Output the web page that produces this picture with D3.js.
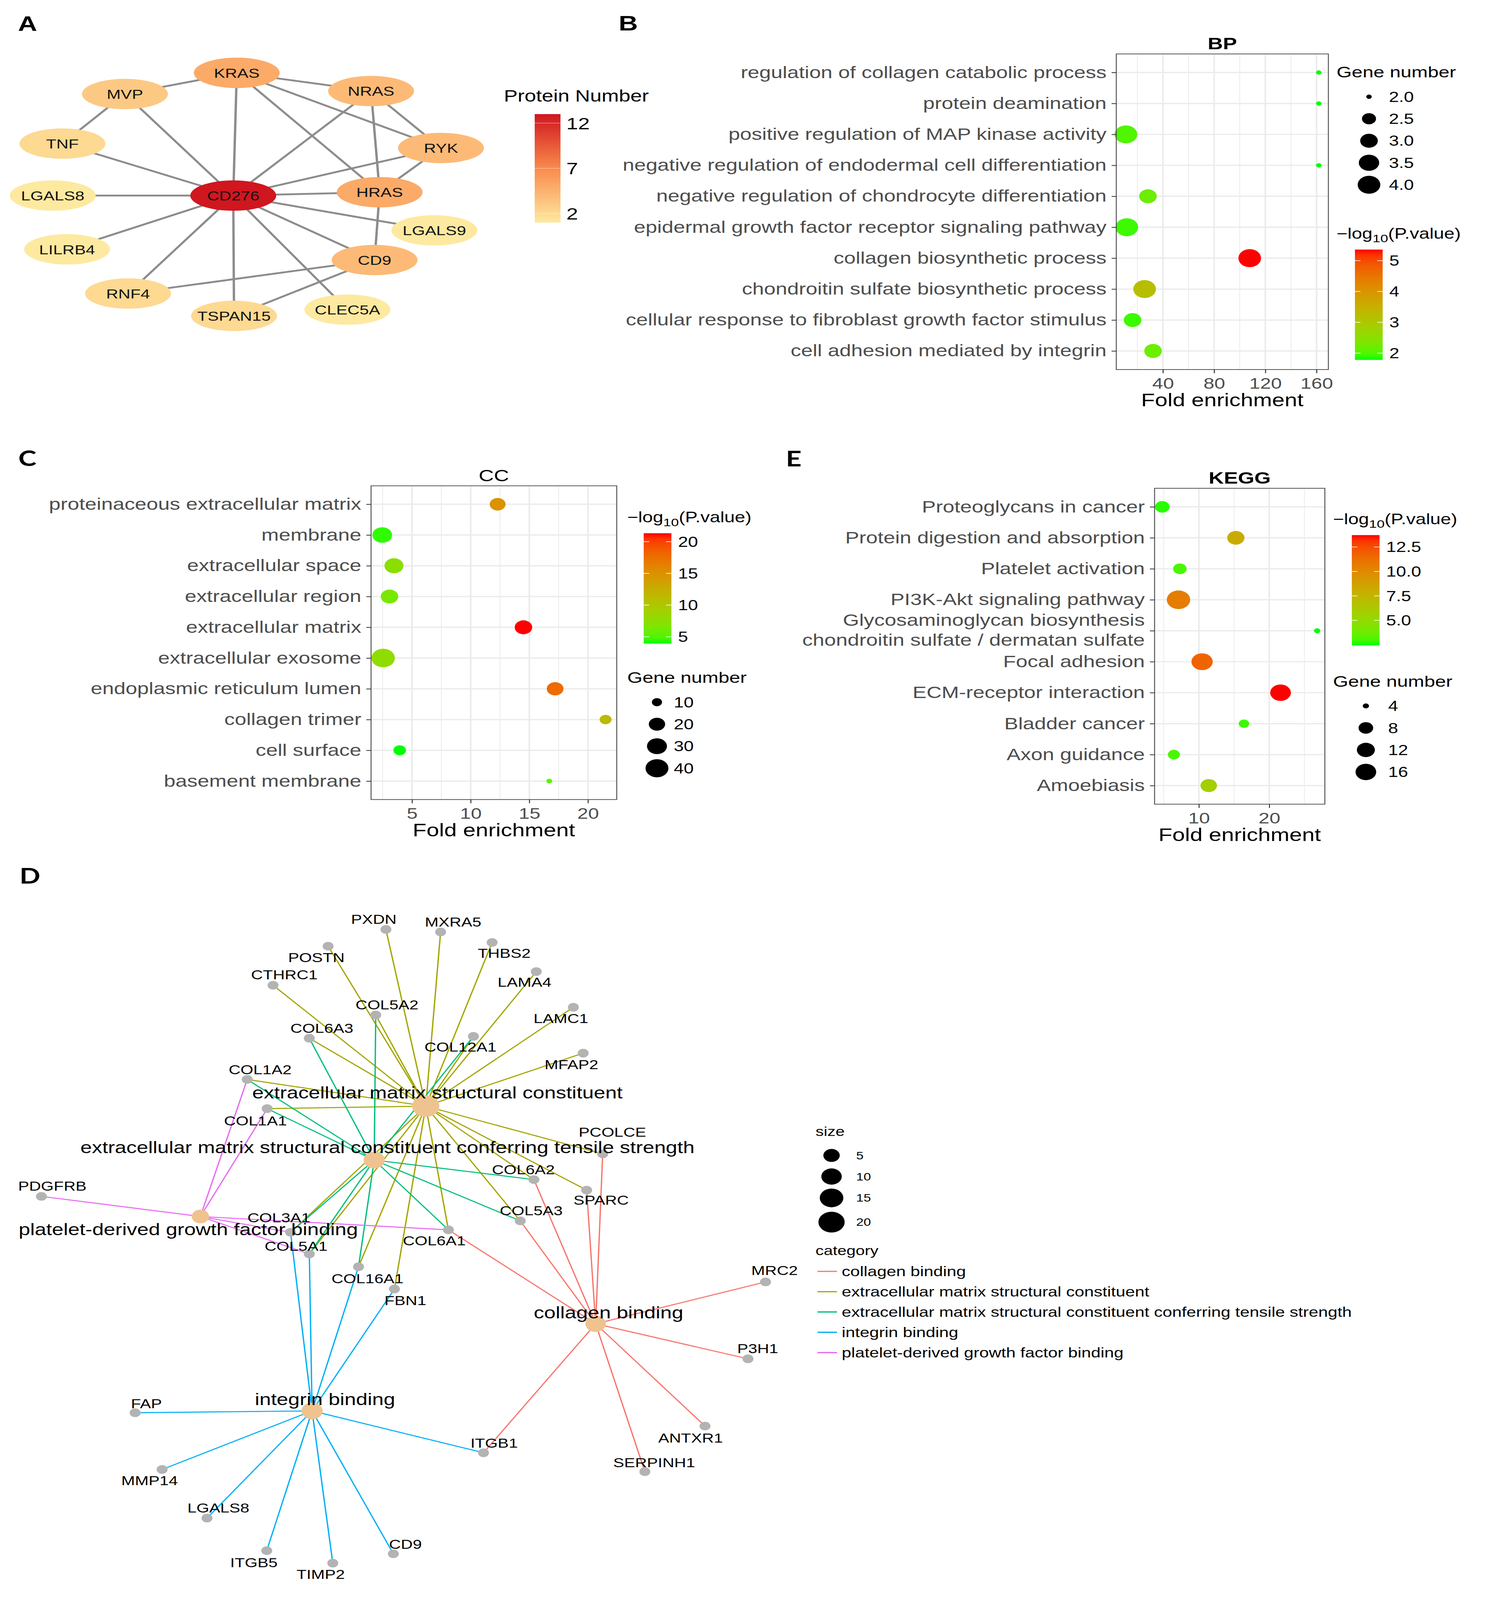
<!DOCTYPE html>
<html>
<head>
<meta charset="utf-8">
<script src="https://cdn.jsdelivr.net/npm/d3@7"></script>
<style>
html,body{margin:0;padding:0;background:#fff;overflow:hidden;}
svg{display:block;}
text{font-family:"Liberation Sans",Arial,Helvetica,sans-serif;}
</style>
</head>
<body>
<script>
// ---------- Panel A : PPI network ----------
var ppiNodes  = ["CD276","KRAS","MVP","NRAS","TNF","RYK","LGALS8","HRAS","LGALS9","LILRB4","CD9","RNF4","TSPAN15","CLEC5A"];
var ppiDegree = [13,5,3,4,2,4,1,5,1,1,4,2,2,1];
// layout coordinates (0-100 grid)
var ppiLayout = [[46.5,50.5],[47.4,0],[18.6,8.7],[82.0,7.5],[2.5,29.1],[100,30.9],[0,50.5],[84.2,49.1],[98.3,64.8],[3.7,72.6],[82.9,77.0],[19.4,90.8],[46.7,100],[75.9,97.4]];
var ppiEdges = [["CD276","KRAS"],["CD276","MVP"],["CD276","TNF"],["CD276","LGALS8"],["CD276","LILRB4"],["CD276","RNF4"],
  ["CD276","TSPAN15"],["CD276","CLEC5A"],["CD276","CD9"],["CD276","LGALS9"],["CD276","HRAS"],["CD276","RYK"],["CD276","NRAS"],
  ["KRAS","MVP"],["KRAS","NRAS"],["KRAS","RYK"],["KRAS","HRAS"],["MVP","TNF"],["NRAS","RYK"],["NRAS","HRAS"],["RYK","HRAS"],
  ["HRAS","CD9"],["CD9","RNF4"],["CD9","TSPAN15"]];
var ppiTicks = [2,7,12];

// ---------- Panel B : GO BP ----------
var bpTerms = ["regulation of collagen catabolic process","protein deamination","positive regulation of MAP kinase activity",
  "negative regulation of endodermal cell differentiation","negative regulation of chondrocyte differentiation",
  "epidermal growth factor receptor signaling pathway","collagen biosynthetic process","chondroitin sulfate biosynthetic process",
  "cellular response to fibroblast growth factor stimulus","cell adhesion mediated by integrin"];
var bpFold  = [161.7,161.7,11.1,161.7,28.3,11.8,107.8,25.7,16.3,32.3];
var bpCount = [2,2,4,2,3,4,4,4,3,3];
var bpLogP  = [1.78,1.78,2.0,1.78,2.2,1.9,5.36,3.2,1.9,2.2];
var bpTicks = [40,80,120,160];
var bpSizeBreaks = [2.0,2.5,3.0,3.5,4.0];
var bpColorBreaks = [2,3,4,5];

// ---------- Panel C : GO CC ----------
var ccTerms = ["proteinaceous extracellular matrix","membrane","extracellular space","extracellular region","extracellular matrix",
  "extracellular exosome","endoplasmic reticulum lumen","collagen trimer","cell surface","basement membrane"];
var ccFold  = [12.3,2.46,3.46,3.08,14.5,2.54,17.2,21.5,3.95,16.7];
var ccCount = [19,29,27,23,23,42,21,12,13,8];
var ccLogP  = [14.7,4.3,7.4,6.5,21.33,7.8,17.8,11.2,3.93,5.3];
var ccTicks = [5,10,15,20];
var ccSizeBreaks = [10,20,30,40];
var ccColorBreaks = [5,10,15,20];

// ---------- Panel E : KEGG ----------
var keggTerms = ["Proteoglycans in cancer","Protein digestion and absorption","Platelet activation","PI3K-Akt signaling pathway",
  "Glycosaminoglycan biosynthesis\nchondroitin sulfate / dermatan sulfate","Focal adhesion","ECM-receptor interaction",
  "Bladder cancer","Axon guidance","Amoebiasis"];
var keggFold  = [4.8,15.25,7.3,7.1,26.8,10.45,21.6,16.4,6.45,11.4];
var keggCount = [8,11,7,21,4,17,16,5,6,10];
var keggLogP  = [2.6,8.1,3.0,10.6,2.43,11.7,13.72,2.8,3.0,5.8];
var keggTicks = [10,20];
var keggSizeBreaks = [4,8,12,16];
var keggColorBreaks = [5,7.5,10,12.5];

// ---------- Panel D : cnetplot ----------
var goCats = ["collagen binding","extracellular matrix structural constituent",
  "extracellular matrix structural constituent conferring tensile strength","integrin binding","platelet-derived growth factor binding"];
var goColors = ["#F8766D","#A3A500","#00BF7D","#00B0F6","#E76BF3"];
var goGenes = [
  ["COL6A1","COL5A3","COL6A2","PCOLCE","SPARC","MRC2","P3H1","ANTXR1","SERPINH1","ITGB1"],
  ["PXDN","MXRA5","THBS2","POSTN","LAMA4","CTHRC1","LAMC1","COL5A2","COL6A3","COL12A1","MFAP2","COL1A2","COL1A1","PCOLCE","COL6A2","SPARC","COL5A3","COL6A1","COL3A1","COL5A1","COL16A1","FBN1"],
  ["COL1A1","COL1A2","COL3A1","COL5A1","COL5A2","COL5A3","COL6A1","COL6A2","COL6A3","COL12A1","COL16A1"],
  ["COL3A1","COL5A1","COL16A1","FBN1","FAP","MMP14","LGALS8","ITGB5","TIMP2","CD9","ITGB1"],
  ["PDGFRB","COL1A2","COL1A1","COL3A1","COL5A1","COL6A1"]];
var goHubLayout = [[75.0,62.86],[52.11,29.43],[45.16,37.71],[36.79,76.24],[21.74,46.38]];
var goHubLabelLayout = [[76.74,61.14],[53.68,27.33],[46.95,35.71],[38.53,74.43],[20.11,48.33]];
var geneNames = ["PXDN","MXRA5","THBS2","POSTN","LAMA4","CTHRC1","LAMC1","COL5A2","COL6A3","COL12A1","MFAP2","COL1A2","COL1A1",
  "PCOLCE","COL6A2","SPARC","PDGFRB","COL5A3","COL3A1","COL6A1","COL5A1","COL16A1","FBN1","MRC2","P3H1","ANTXR1","SERPINH1",
  "ITGB1","FAP","MMP14","LGALS8","ITGB5","TIMP2","CD9"];
var geneLayout = [[46.74,2.29],[54.11,2.67],[61.05,4.29],[38.95,4.86],[67.0,8.76],[31.53,10.86],[72.0,14.24],[45.37,15.43],
  [36.42,19.0],[58.53,18.71],[73.32,21.29],[28.05,25.33],[30.74,29.81],[75.95,36.76],[66.68,40.71],[73.79,42.33],[0.32,43.29],
  [64.84,47.05],[33.89,48.81],[55.16,48.43],[36.42,52.14],[43.05,54.10],[47.89,57.52],[97.89,56.43],[95.53,68.24],[89.74,78.57],
  [81.63,85.57],[59.89,82.67],[12.95,76.52],[16.58,85.24],[22.63,92.71],[30.68,97.71],[39.58,99.62],[47.74,98.19]];
var geneLabelLayout = [[45.11,0.71],[55.79,1.10],[62.68,5.90],[37.37,6.57],[65.42,10.38],[33.05,9.24],[70.32,15.95],[46.89,13.86],
  [38.11,17.43],[56.79,20.33],[71.74,23.05],[29.79,23.81],[29.16,31.67],[77.26,33.43],[65.26,39.19],[75.74,43.86],[1.79,41.71],
  [66.32,45.48],[32.32,46.52],[53.26,50.10],[34.63,50.95],[44.26,55.90],[49.37,59.24],[99.11,54.67],[96.84,66.67],[87.79,80.38],
  [82.89,84.19],[61.32,81.19],[14.47,75.10],[14.89,86.95],[24.16,91.14],[28.95,99.52],[37.95,101.33],[49.37,96.71]];
var goSizeBreaks = [5,10,15,20];

// drawing is laid out on the 3802x5161 figure grid and fitted to the real window
var W = 3802, H = 5161;
var outW = Math.min(W, window.innerWidth || W), outH = Math.min(H, window.innerHeight || H);
var svg = d3.select("body").append("svg")
	.attr("width",outW).attr("height",outH)
	.attr("viewBox","0 0 "+W+" "+H).attr("preserveAspectRatio","none");
svg.append("rect").attr("width",W).attr("height",H).attr("fill","#fff");

// panel letters
svg.append("text").attr("x",46).attr("y",100).attr("font-size",68).attr("font-weight","bold").text("A");
svg.append("text").attr("x",1584).attr("y",98).attr("font-size",68).attr("font-weight","bold").text("B");
svg.append("text").attr("x",47).attr("y",1503).attr("font-size",70).attr("font-weight","bold").style("font-family","Lato, sans-serif").text("C");
svg.append("text").attr("x",2012).attr("y",1505).attr("font-size",70).attr("font-weight","bold").style("font-family","Lato, sans-serif").text("E");
svg.append("text").attr("x",50).attr("y",2850).attr("font-size",70).attr("font-weight","bold").style("font-family","Lato, sans-serif").text("D");

//=================== PANEL A ===================
function drawPPI(){
	var g = svg.append("g");
	var ax = d3.scaleLinear().domain([0,100]).range([135,1129]);
	var ay = d3.scaleLinear().domain([0,100]).range([235,1019]);
	var col = d3.scaleLinear().domain([1,7,13]).range(["#fee9a0","#f98a4c","#d0161f"]);
	var idx = {};
	ppiNodes.forEach(function(n,i){idx[n]=i;});

	g.selectAll("line.e").data(ppiEdges).enter().append("line")
		.attr("x1",function(d){return ax(ppiLayout[idx[d[0]]][0]);})
		.attr("y1",function(d){return ay(ppiLayout[idx[d[0]]][1]);})
		.attr("x2",function(d){return ax(ppiLayout[idx[d[1]]][0]);})
		.attr("y2",function(d){return ay(ppiLayout[idx[d[1]]][1]);})
		.attr("stroke","#8c8c8c").attr("stroke-width",6);

	var nodes = g.selectAll("g.n").data(ppiNodes).enter().append("g")
		.attr("transform",function(d,i){return "translate("+ax(ppiLayout[i][0])+","+ay(ppiLayout[i][1])+")";});
	nodes.append("ellipse").attr("rx",110).attr("ry",49)
		.attr("fill",function(d,i){return col(ppiDegree[i]);});
	nodes.append("text").attr("text-anchor","middle").attr("dy","0.36em")
		.attr("font-size",43).attr("fill","#111").text(function(d){return d;});

	// legend
	var ly = d3.scaleLinear().domain([1,13]).range([718,368]);
	var grad = svg.append("defs").append("linearGradient").attr("id","gradA")
		.attr("x1",0).attr("y1",1).attr("x2",0).attr("y2",0);
	d3.range(0,1.0001,0.05).forEach(function(t){
		grad.append("stop").attr("offset",t).attr("stop-color",col(1+12*t));
	});
	g.append("text").attr("x",1290).attr("y",328).attr("font-size",53).text("Protein Number");
	g.append("rect").attr("x",1369).attr("y",ly(13)).attr("width",66).attr("height",ly(1)-ly(13)).attr("fill","url(#gradA)");
	g.selectAll("line.t").data(ppiTicks).enter().append("line")
		.attr("x1",1369).attr("x2",1435).attr("y1",function(d){return ly(d);}).attr("y2",function(d){return ly(d);})
		.attr("stroke","#fff").attr("stroke-opacity",0.45).attr("stroke-width",2);
	g.selectAll("text.t").data(ppiTicks).enter().append("text")
		.attr("x",1450).attr("y",function(d){return ly(d);}).attr("dy","0.36em")
		.attr("font-size",54).text(function(d){return d;});
}
drawPPI();

//=================== DOT PLOTS ===================
function expand5(ext){var d=(ext[1]-ext[0])*0.05;return [ext[0]-d,ext[1]+d];}

function logTitle(g,x,y){
	var t = g.append("text").attr("x",x).attr("y",y).attr("dy","0.35em").attr("font-size",48);
	t.append("tspan").text("\u2212log");
	t.append("tspan").attr("font-size",36).attr("dy",12).text("10");
	t.append("tspan").attr("dy",-12).text("(P.value)");
}

function dotPanel(cfg){
	var g = svg.append("g");
	var xdom = expand5(d3.extent(cfg.fold));
	var x = d3.scaleLinear().domain(xdom).range([cfg.left,cfg.right]);
	var y = d3.scalePoint().domain(cfg.terms).range([cfg.top,cfg.bottom]).padding(0.6);
	var cext = d3.extent(cfg.logp);
	var col = d3.scaleLinear().domain(cext).range(["#00ff00","#ff0000"]).interpolate(d3.interpolateLab);
	var sext = d3.extent(cfg.count);
	var rl = d3.scaleLinear().domain([0,1]).range(cfg.rRange);
	function rad(v){return rl(Math.sqrt(Math.max(0,(v-sext[0])/(sext[1]-sext[0]))));}

	// grid
	var step = cfg.ticks[1]-cfg.ticks[0];
	var minor = [];
	for(var v=cfg.ticks[0]-step/2; v<=xdom[1]; v+=step){ if(v>=xdom[0]) minor.push(v); }
	g.selectAll("line.mn").data(minor).enter().append("line")
		.attr("x1",function(d){return x(d);}).attr("x2",function(d){return x(d);})
		.attr("y1",cfg.top).attr("y2",cfg.bottom).attr("stroke","#ebebeb").attr("stroke-width",2);
	g.selectAll("line.mj").data(cfg.ticks).enter().append("line")
		.attr("x1",function(d){return x(d);}).attr("x2",function(d){return x(d);})
		.attr("y1",cfg.top).attr("y2",cfg.bottom).attr("stroke","#ebebeb").attr("stroke-width",4);
	g.selectAll("line.hz").data(cfg.terms).enter().append("line")
		.attr("x1",cfg.left).attr("x2",cfg.right)
		.attr("y1",function(d){return y(d);}).attr("y2",function(d){return y(d);})
		.attr("stroke","#ebebeb").attr("stroke-width",4);

	// points
	var idx = d3.range(cfg.terms.length);
	g.selectAll("circle.p").data(idx).enter().append("circle")
		.attr("cx",function(i){return x(cfg.fold[i]);})
		.attr("cy",function(i){return y(cfg.terms[i]);})
		.attr("r",function(i){return rad(cfg.count[i]);})
		.attr("fill",function(i){return col(cfg.logp[i]);});

	g.append("rect").attr("x",cfg.left).attr("y",cfg.top).attr("width",cfg.right-cfg.left).attr("height",cfg.bottom-cfg.top)
		.attr("fill","none").attr("stroke","#555").attr("stroke-width",2.5);

	// axes
	var gx = g.append("g").attr("transform","translate(0,"+cfg.bottom+")")
		.call(d3.axisBottom(x).tickValues(cfg.ticks).tickSize(12).tickPadding(14).tickFormat(d3.format("d")));
	var gy = g.append("g").attr("transform","translate("+cfg.left+",0)")
		.call(d3.axisLeft(y).tickSize(12).tickPadding(13));
	[gx,gy].forEach(function(a){
		a.select(".domain").remove();
		a.selectAll(".tick line").attr("stroke","#333").attr("stroke-width",2.5);
		a.selectAll(".tick text").attr("fill","#4d4d4d").style("font-family",'"Liberation Sans",Arial,sans-serif');
	});
	gx.selectAll(".tick text").attr("font-size",50);
	gy.selectAll(".tick text").attr("font-size",53.5).each(function(d){
		var lines = d.split("\n");
		if(lines.length>1){
			var t = d3.select(this).text(null).attr("dy",null);
			lines.forEach(function(s,i){
				t.append("tspan").attr("x",-25).attr("dy",i===0?"-0.30em":"1.20em").text(s);
			});
		}
	});

	// titles
	g.append("text").attr("x",(cfg.left+cfg.right)/2).attr("y",cfg.top-34).attr("dy","0.35em")
		.attr("text-anchor","middle").attr("font-size",54).attr("font-weight",cfg.bold?"bold":"normal").text(cfg.title);
	g.append("text").attr("x",(cfg.left+cfg.right)/2).attr("y",cfg.bottom+98).attr("dy","0.35em")
		.attr("text-anchor","middle").attr("font-size",58).text("Fold enrichment");

	// size legend
	var L = cfg.legend;
	g.append("text").attr("x",L.x).attr("y",L.sizeY).attr("dy","0.35em").attr("font-size",50).text("Gene number");
	g.selectAll("circle.k").data(cfg.sizeBreaks).enter().append("circle")
		.attr("cx",L.x+L.dot).attr("cy",function(d,i){return L.sizeY+80+i*71;})
		.attr("r",function(d){return rad(d);}).attr("fill","#000");
	g.selectAll("text.k").data(cfg.sizeBreaks).enter().append("text")
		.attr("x",L.x+L.lab).attr("y",function(d,i){return L.sizeY+80+i*71;}).attr("dy","0.36em")
		.attr("font-size",46).text(function(d){return cfg.sizeFmt(d);});

	// colour bar
	logTitle(g,L.x,L.colY);
	var b0 = L.colY+52, b1 = b0+356;
	var by = d3.scaleLinear().domain(cext).range([b1,b0]);
	var grad = svg.append("defs").append("linearGradient").attr("id","grad"+cfg.title)
		.attr("x1",0).attr("y1",1).attr("x2",0).attr("y2",0);
	d3.range(0,1.0001,0.05).forEach(function(t){
		grad.append("stop").attr("offset",t).attr("stop-color",col(cext[0]+t*(cext[1]-cext[0])));
	});
	g.append("rect").attr("x",L.x+L.bar).attr("y",b0).attr("width",71).attr("height",b1-b0).attr("fill","url(#grad"+cfg.title+")");
	cfg.colorBreaks.forEach(function(d){
		[[L.x+L.bar,L.x+L.bar+14],[L.x+L.bar+57,L.x+L.bar+71]].forEach(function(s){
			g.append("line").attr("x1",s[0]).attr("x2",s[1]).attr("y1",by(d)).attr("y2",by(d))
				.attr("stroke","#fff").attr("stroke-width",2);
		});
	});
	g.selectAll("text.c").data(cfg.colorBreaks).enter().append("text")
		.attr("x",L.x+L.bar+88).attr("y",function(d){return by(d);}).attr("dy","0.36em")
		.attr("font-size",46).text(function(d){return cfg.colorFmt(d);});
}

dotPanel({title:"BP",bold:true,terms:bpTerms,fold:bpFold,count:bpCount,logp:bpLogP,ticks:bpTicks,
	sizeBreaks:bpSizeBreaks,colorBreaks:bpColorBreaks,rRange:[7,29],
	sizeFmt:d3.format(".1f"),colorFmt:d3.format("d"),
	left:2858,right:3401,top:174,bottom:1192,
	legend:{x:3422,sizeY:232,colY:753,dot:83,lab:134,bar:47}});

dotPanel({title:"CC",bold:false,terms:ccTerms,fold:ccFold,count:ccCount,logp:ccLogP,ticks:ccTicks,
	sizeBreaks:ccSizeBreaks,colorBreaks:ccColorBreaks,rRange:[7.5,30],
	sizeFmt:d3.format("d"),colorFmt:d3.format("d"),
	left:950,right:1579,top:1567,bottom:2579,
	legend:{x:1606,sizeY:2185,colY:1668,dot:76,lab:119,bar:42}});

dotPanel({title:"KEGG",bold:true,terms:keggTerms,fold:keggFold,count:keggCount,logp:keggLogP,ticks:keggTicks,
	sizeBreaks:keggSizeBreaks,colorBreaks:keggColorBreaks,rRange:[8,30],
	sizeFmt:d3.format("d"),colorFmt:d3.format(".1f"),
	left:2956,right:3392,top:1575,bottom:2594,
	legend:{x:3413,sizeY:2197,colY:1674,dot:84,lab:141,bar:48}});

//=================== PANEL D ===================
function drawCnet(){
	var g = svg.append("g");
	var dx = d3.scaleLinear().domain([0,100]).range([100,2000]);
	var dy = d3.scaleLinear().domain([0,100]).range([2950,5050]);
	var rl = d3.scaleLinear().domain([1,Math.sqrt(20)]).range([14,33.6]);
	function rad(v){return rl(Math.sqrt(v));}
	var gi = {};
	geneNames.forEach(function(n,i){gi[n]=i;});

	var edges = [];
	goCats.forEach(function(c,ci){
		goGenes[ci].forEach(function(gn){edges.push({c:ci,g:gi[gn]});});
	});
	g.selectAll("line.e").data(edges).enter().append("line")
		.attr("x1",function(d){return dx(goHubLayout[d.c][0]);})
		.attr("y1",function(d){return dy(goHubLayout[d.c][1]);})
		.attr("x2",function(d){return dx(geneLayout[d.g][0]);})
		.attr("y2",function(d){return dy(geneLayout[d.g][1]);})
		.attr("stroke",function(d){return goColors[d.c];}).attr("stroke-width",3.4);

	g.selectAll("circle.h").data(goCats).enter().append("circle")
		.attr("cx",function(d,i){return dx(goHubLayout[i][0]);})
		.attr("cy",function(d,i){return dy(goHubLayout[i][1]);})
		.attr("r",function(d,i){return rad(goGenes[i].length);})
		.attr("fill","#efc38f");
	g.selectAll("circle.g").data(geneNames).enter().append("circle")
		.attr("cx",function(d,i){return dx(geneLayout[i][0]);})
		.attr("cy",function(d,i){return dy(geneLayout[i][1]);})
		.attr("r",rad(1)).attr("fill","#b3b3b3");

	g.selectAll("text.g").data(geneNames).enter().append("text")
		.attr("x",function(d,i){return dx(geneLabelLayout[i][0]);})
		.attr("y",function(d,i){return dy(geneLabelLayout[i][1]);})
		.attr("dy","0.36em").attr("text-anchor","middle").attr("font-size",42).text(function(d){return d;});
	g.selectAll("text.h").data(goCats).enter().append("text")
		.attr("x",function(d,i){return dx(goHubLabelLayout[i][0]);})
		.attr("y",function(d,i){return dy(goHubLabelLayout[i][1]);})
		.attr("dy","0.36em").attr("text-anchor","middle").attr("font-size",53).text(function(d){return d;});

	// legends
	g.append("text").attr("x",2088).attr("y",3650).attr("dy","0.35em").attr("font-size",42).text("size");
	var keyY = [3727,3795,3864,3942];
	g.selectAll("circle.k").data(goSizeBreaks).enter().append("circle")
		.attr("cx",2129).attr("cy",function(d,i){return keyY[i];})
		.attr("r",function(d){return rad(d);}).attr("fill","#000");
	g.selectAll("text.k").data(goSizeBreaks).enter().append("text")
		.attr("x",2192).attr("y",function(d,i){return keyY[i];}).attr("dy","0.36em")
		.attr("font-size",34).text(function(d){return d;});

	g.append("text").attr("x",2088).attr("y",4034).attr("dy","0.35em").attr("font-size",42).text("category");
	g.selectAll("line.k").data(goCats).enter().append("line")
		.attr("x1",2093).attr("x2",2143)
		.attr("y1",function(d,i){return 4101+i*65.5;}).attr("y2",function(d,i){return 4101+i*65.5;})
		.attr("stroke",function(d,i){return goColors[i];}).attr("stroke-width",4);
	g.selectAll("text.c").data(goCats).enter().append("text")
		.attr("x",2155).attr("y",function(d,i){return 4101+i*65.5;}).attr("dy","0.36em")
		.attr("font-size",44).text(function(d){return d;});
}
drawCnet();
</script>
</body>
</html>
